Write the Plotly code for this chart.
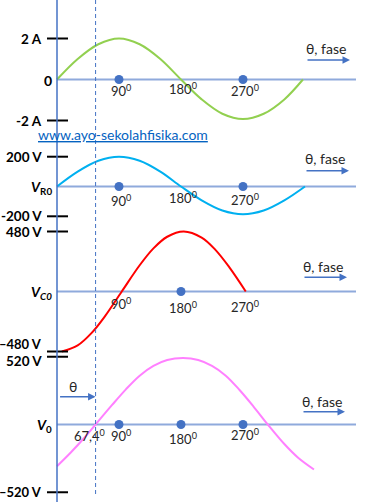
import plotly.graph_objects as go

W, H = 367, 502

# ---------------- data ----------------
theta_i = [0, 30, 60, 90, 120, 150, 180, 210, 240, 270, 300, 330, 357]
i_vals = [0, 1.0, 1.72, 2.0, 1.72, 1.0, 0, -0.97, -1.67, -1.93, -1.67, -0.97, 0]

theta_vr = [0, 30, 60, 90, 120, 150, 180, 210, 240, 270, 300, 330, 360]
vr_vals = [0, 100, 173, 200, 173, 100, 0, -93, -161, -186, -161, -93, 0]

theta_vc = [7, 30, 50, 70, 94, 120, 140, 160, 184, 210, 230, 250, 274]
vc_vals = [-480, -431, -333, -195, 0, 210, 345, 438, 480, 431, 333, 195, 0]

theta_v0 = [0, 20, 40, 56, 80, 100, 120, 140, 160, 183, 205, 225, 245, 265, 285, 306, 330, 350, 373]
v0_vals = [-320, -215, -100, 0, 150, 270, 375, 450, 495, 510, 495, 450, 375, 265, 140, 0, -150, -255, -345]

dots_i = [90, 270]
dots_vr = [90, 270]
dots_vc = [180]
dots_v0 = [90, 180, 270]

phase_labels = ["90<sup>0</sup>", "180<sup>0</sup>", "270<sup>0</sup>"]
phase_pos = [90, 180, 270]
theta_mark = 56          # position of the dashed line (drawn)
theta_mark_label = "67,4<sup>0</sup>"

ticks_i = [2, -2];      ticklab_i = ["2 A", "-2 A"]
ticks_vr = [200, -200]; ticklab_vr = ["200 V", "-200 V"]
ticks_vc = [480, -480]; ticklab_vc = ["480 V", "\u2013480 V"]
ticks_v0 = [520, -520]; ticklab_v0 = ["520 V", "\u2013520 V"]

# ---------------- layout helpers ----------------
K = 62 / 90.0            # px per degree
X0 = -57 / K
X1 = (W - 57) / K


def yrange(zero_px, scale):
    return [-(H - zero_px) / scale, zero_px / scale]


panels = [
    dict(ax="y", zero=79.5, s=20.5, th=theta_i, v=i_vals, col="#92D050",
         dots=dots_i, ticks=ticks_i, tl=ticklab_i, name="<b>0</b>",
         lab_px=[90, 88, 90]),
    dict(ax="y2", zero=186.5, s=0.149, th=theta_vr, v=vr_vals, col="#00B0F0",
         dots=dots_vr, ticks=ticks_vr, tl=ticklab_vr,
         name="<b><i>V</i><sub>R0</sub></b>", lab_px=[200, 197, 199]),
    dict(ax="y3", zero=291.5, s=0.125, th=theta_vc, v=vc_vals, col="#FF0000",
         dots=dots_vc, ticks=ticks_vc, tl=ticklab_vc,
         name="<b><i>V</i><sub><i>C0</i></sub></b>", lab_px=[303, 307, 306]),
    dict(ax="y4", zero=424.5, s=0.1303, th=theta_v0, v=v0_vals, col="#FF80FF",
         dots=dots_v0, ticks=ticks_v0, tl=ticklab_v0,
         name="<b><i>V</i><sub>0</sub></b>", lab_px=[435, 438, 434]),
]

fig = go.Figure()
shapes = []
ann = []
AXC = "#4472C4"
FONT = "Lato, 'Open Sans', sans-serif"

for idx, p in enumerate(panels):
    fig.add_trace(go.Scatter(x=p["th"], y=p["v"], mode="lines", yaxis=p["ax"],
                             line=dict(color=p["col"], width=2, shape="spline", smoothing=1.0),
                             hoverinfo="skip", showlegend=False))
    fig.add_trace(go.Scatter(x=p["dots"], y=[0] * len(p["dots"]), mode="markers", yaxis=p["ax"],
                             marker=dict(color=AXC, size=9), hoverinfo="skip", showlegend=False))
    yref = p["ax"]
    # horizontal phase axis
    shapes.append(dict(type="line", xref="x", yref=yref, x0=0, x1=(356 - 57) / K, y0=0, y1=0,
                       line=dict(color="#8FAADC", width=2), layer="below"))
    # tick marks and labels
    for k, (tv, tl) in enumerate(zip(p["ticks"], p["tl"])):
        shapes.append(dict(type="line", xref="paper", yref=yref, x0=47 / W, x1=68 / W, y0=tv, y1=tv,
                           line=dict(color="black", width=2)))
        ysh = 0
        if tl.startswith("\u2013480"):
            ysh = 8
        if tl == "520 V":
            ysh = -4
        ann.append(dict(xref="paper", yref=yref, x=44 / W, y=tv, xanchor="right", yanchor="middle",
                        text="<b>" + tl + "</b>", showarrow=False, yshift=ysh,
                        font=dict(size=13.5 if not tl.startswith("\u2013") else 13, color="black")))
    # zero label
    ann.append(dict(xref="paper", yref=yref, x=54 / W, y=0, xanchor="right", yanchor="middle",
                    text=p["name"], showarrow=False, yshift=-1,
                    font=dict(size=14, color="black")))
    # phase labels
    for lab, pos, lpx in zip(phase_labels, phase_pos, p["lab_px"]):
        ann.append(dict(xref="x", yref="paper", x=pos, y=1 - lpx / H, xanchor="center",
                        yanchor="middle", text=lab, showarrow=False, xshift=2,
                        font=dict(size=13, color="#262626")))

# theta, fase labels + arrows
for ty, ay_, xs, xe in [(48, 60, 306, 350), (159, 170.7, 305, 349),
                        (266.7, 277.3, 303, 347), (401.7, 411.7, 302, 345)]:
    ann.append(dict(xref="paper", yref="paper", x=(xs + xe) / 2 / W - 2 / W, y=1 - ty / H,
                    text="\u03b8, fase", showarrow=False, xanchor="center", yanchor="middle",
                    font=dict(size=14, color="#262626")))
    ann.append(dict(xref="paper", yref="paper", x=xe / W, y=1 - ay_ / H, ax=-(xe - xs), ay=0,
                    text="", showarrow=True, arrowhead=2, arrowsize=1, arrowwidth=1.5,
                    arrowcolor=AXC, standoff=0))

# theta marker in V0 panel
ann.append(dict(xref="paper", yref="paper", x=73 / W, y=1 - 386 / H, text="\u03b8", showarrow=False,
                xanchor="center", yanchor="middle", font=dict(size=14, color="#262626")))
ann.append(dict(xref="x", yref="paper", x=theta_mark, y=1 - 396.7 / H, ax=-(96 - 59), ay=0,
                text="", showarrow=True, arrowhead=2, arrowsize=1, arrowwidth=1.5,
                arrowcolor=AXC, standoff=0))
ann.append(dict(xref="x", yref="paper", x=theta_mark, y=1 - 435 / H, text=theta_mark_label,
                showarrow=False, xanchor="center", yanchor="middle", xshift=-6,
                font=dict(size=13, color="#262626")))

# website
ann.append(dict(xref="paper", yref="paper", x=123 / W, y=1 - 134 / H,
                text="<u>www.ayo-sekolahfisika.com</u>", showarrow=False,
                xanchor="center", yanchor="middle", font=dict(size=14, color="#0563C1")))

# vertical axis and dashed line
shapes.append(dict(type="line", xref="x", yref="paper", x0=0, x1=0, y0=0, y1=1,
                   line=dict(color=AXC, width=1.5)))
shapes.append(dict(type="line", xref="x", yref="paper", x0=theta_mark, x1=theta_mark,
                   y0=1 - 494 / H, y1=1, line=dict(color=AXC, width=1, dash="4px,3px")))

layout = dict(
    width=W, height=H, margin=dict(l=0, r=0, t=0, b=0),
    paper_bgcolor="white", plot_bgcolor="white",
    font=dict(family=FONT),
    xaxis=dict(range=[X0, X1], visible=False, domain=[0, 1], fixedrange=True),
    shapes=shapes, annotations=ann, showlegend=False, hovermode=False,
)
for p in panels:
    key = "yaxis" if p["ax"] == "y" else "yaxis" + p["ax"][1:]
    d = dict(range=yrange(p["zero"], p["s"]), visible=False, domain=[0, 1], fixedrange=True)
    if p["ax"] != "y":
        d["overlaying"] = "y"
    layout[key] = d

fig.update_layout(**layout)
fig.write_html("out.html", config={"displayModeBar": False},
               post_script="document.body.style.margin='0';document.body.style.overflow='hidden';")
